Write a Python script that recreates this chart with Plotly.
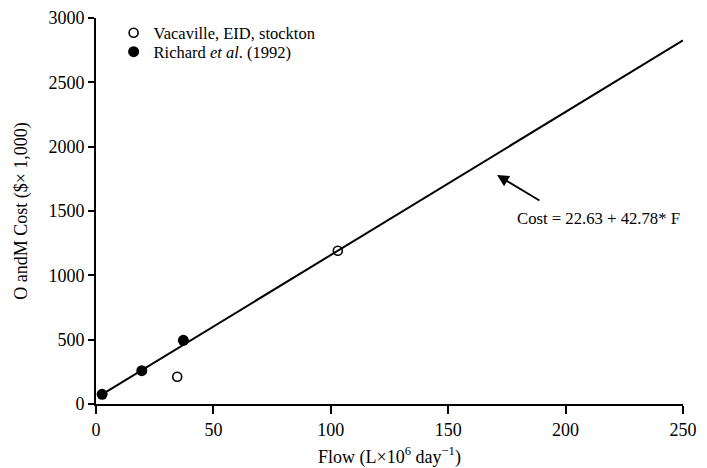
import plotly.graph_objects as go

# Data
vac_flow = [34.6, 103.0]
vac_cost = [212, 1191]
rich_flow = [2.6, 19.5, 37.2]
rich_cost = [75, 259, 495]
fit_flow = [2.6, 250.0]
fit_cost = [75, 2826]

x_ticks = [0, 50, 100, 150, 200, 250]
y_ticks = [0, 500, 1000, 1500, 2000, 2500, 3000]

FONT = "Liberation Serif"

fig = go.Figure()
fig.add_trace(go.Scatter(x=fit_flow, y=fit_cost, mode="lines",
                         line=dict(color="black", width=2), showlegend=False,
                         cliponaxis=False))
fig.add_trace(go.Scatter(x=vac_flow, y=vac_cost, mode="markers",
                         name="Vacaville, EID, stockton", legend="legend",
                         marker=dict(symbol="circle-open", size=9, color="black",
                                     line=dict(width=1.6, color="black")),
                         cliponaxis=False))
fig.add_trace(go.Scatter(x=rich_flow, y=rich_cost, mode="markers",
                         name="Richard <i>et al</i>. (1992)", legend="legend2",
                         marker=dict(symbol="circle", size=11, color="black"),
                         cliponaxis=False))

fig.add_annotation(x=170.8, y=1779, ax=189.5, ay=1575, xref="x", yref="y",
                   axref="x", ayref="y", text="", showarrow=True,
                   arrowhead=2, arrowsize=1.3, arrowwidth=1.8, arrowcolor="black")
fig.add_annotation(x=214, y=1445, xref="x", yref="y", showarrow=False,
                   text="Cost = 22.63 + 42.78* F",
                   font=dict(family=FONT, size=16.7, color="black"))

legend_style = dict(xanchor="left", yanchor="middle", bgcolor="rgba(0,0,0,0)",
                    font=dict(family=FONT, size=16.5, color="black"), itemwidth=30)

fig.update_layout(
    width=699, height=460,
    margin=dict(l=88, r=24, t=10, b=64, autoexpand=False),
    paper_bgcolor="white", plot_bgcolor="white",
    font=dict(family=FONT, size=16, color="black"),
    legend=dict(x=0.03, y=0.961, **legend_style),
    legend2=dict(x=0.03, y=0.912, **legend_style),
    xaxis=dict(range=[0, 250], tickvals=x_ticks, showgrid=False, zeroline=False,
               showline=True, linecolor="black", linewidth=2, automargin=False,
               ticks="outside", ticklen=8, tickwidth=2, tickcolor="black",
               tickfont=dict(family=FONT, size=18),
               title=dict(text="Flow (L×10<sup>6</sup> day<sup>−1</sup>)",
                          font=dict(family=FONT, size=18), standoff=16)),
    yaxis=dict(range=[0, 3000], tickvals=y_ticks, showgrid=False, zeroline=False,
               showline=True, linecolor="black", linewidth=2, automargin=False,
               ticks="outside", ticklen=6, tickwidth=2, tickcolor="black",
               tickfont=dict(family=FONT, size=18),
               title=dict(text="O andM Cost ($× 1,000)",
                          font=dict(family=FONT, size=18), standoff=16)),
)

fig.write_html("out.html")
